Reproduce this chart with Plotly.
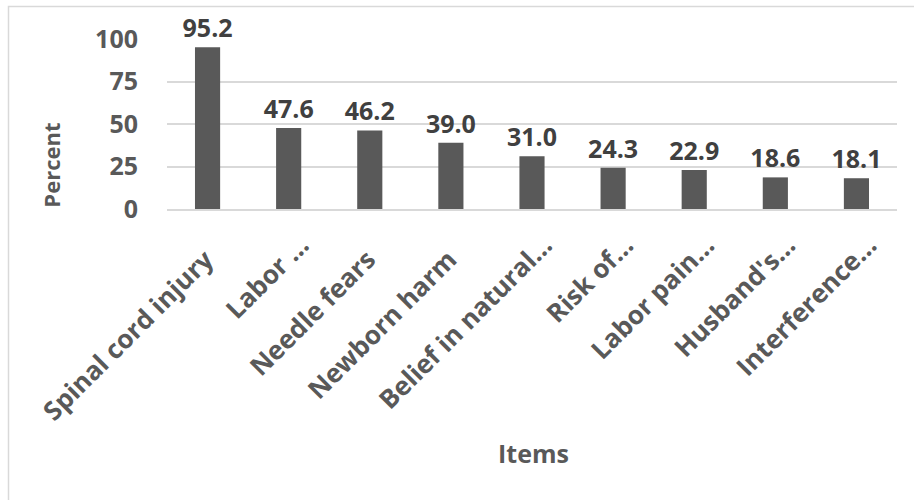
import plotly.graph_objects as go

categories = ["Spinal cord injury", "Labor …", "Needle fears", "Newborn harm",
              "Belief in natural…", "Risk of…", "Labor pain…", "Husband's…", "Interference…"]
values = [95.2, 47.6, 46.2, 39.0, 31.0, 24.3, 22.9, 18.6, 18.1]
value_labels = [f"{v:.1f}" for v in values]
y_ticks = [0, 25, 50, 75, 100]

W, H = 914, 500
L, R, T, B = 167, 17, 39, 290.5
pw, ph = W - L - R, H - T - B

def px_x(x):
    return (x - L) / pw

def px_y(y):
    return (H - B - y) / ph

FONT = "Open Sans"

# Excel places truncated ("…") labels further along their own line; emulate by
# padding the full labels with trailing non-breaking spaces.
NBSP = "\u00a0"
tick_text = [c if c.endswith("…") else c + NBSP * 3 for c in categories]
tick_pos = [i + 0.155 for i in range(len(categories))]

fig = go.Figure(go.Bar(
    x=categories, y=values, text=value_labels, textposition="outside",
    constraintext="none", cliponaxis=False,
    marker=dict(color="#595959", line=dict(width=0)),
    textfont=dict(family=FONT, size=25, color="#404040", weight="bold"),
    hoverinfo="skip",
))

fig.update_layout(
    width=W, height=H, margin=dict(l=L, r=R, t=T, b=B, autoexpand=False),
    paper_bgcolor="white", plot_bgcolor="white", showlegend=False,
    bargap=0.69,
    xaxis=dict(tickangle=-45, tickmode="array", tickvals=tick_pos, ticktext=tick_text,
               tickfont=dict(family=FONT, size=26, color="#595959", weight="bold"),
               showgrid=False, showline=True, linecolor="#d9d9d9", linewidth=1.5,
               ticks="", automargin=False, ticklabelstandoff=9, fixedrange=True),
    yaxis=dict(range=[0, 100], tickvals=y_ticks, showgrid=True, gridcolor="#d9d9d9", gridwidth=1.5,
               zeroline=False, showline=False, ticks="", automargin=False,
               tickfont=dict(family=FONT, size=25, color="#595959", weight="bold"),
               ticklabelstandoff=28, fixedrange=True),
    shapes=[dict(type="rect", xref="paper", yref="paper",
                 x0=px_x(8.5), x1=px_x(1000), y0=px_y(600), y1=px_y(6.5),
                 line=dict(color="#d9d9d9", width=1.5), fillcolor="rgba(0,0,0,0)", layer="below")],
    annotations=[
        dict(text="Percent", xref="paper", yref="paper", x=px_x(51), y=px_y(165), textangle=-90,
             showarrow=False, xanchor="center", yanchor="middle",
             font=dict(family=FONT, size=22, color="#595959", weight="bold")),
        dict(text="Items", xref="paper", yref="paper", x=px_x(533), y=px_y(454),
             showarrow=False, xanchor="center", yanchor="middle",
             font=dict(family=FONT, size=25, color="#595959", weight="bold")),
    ],
)

fig.write_html("out.html")
